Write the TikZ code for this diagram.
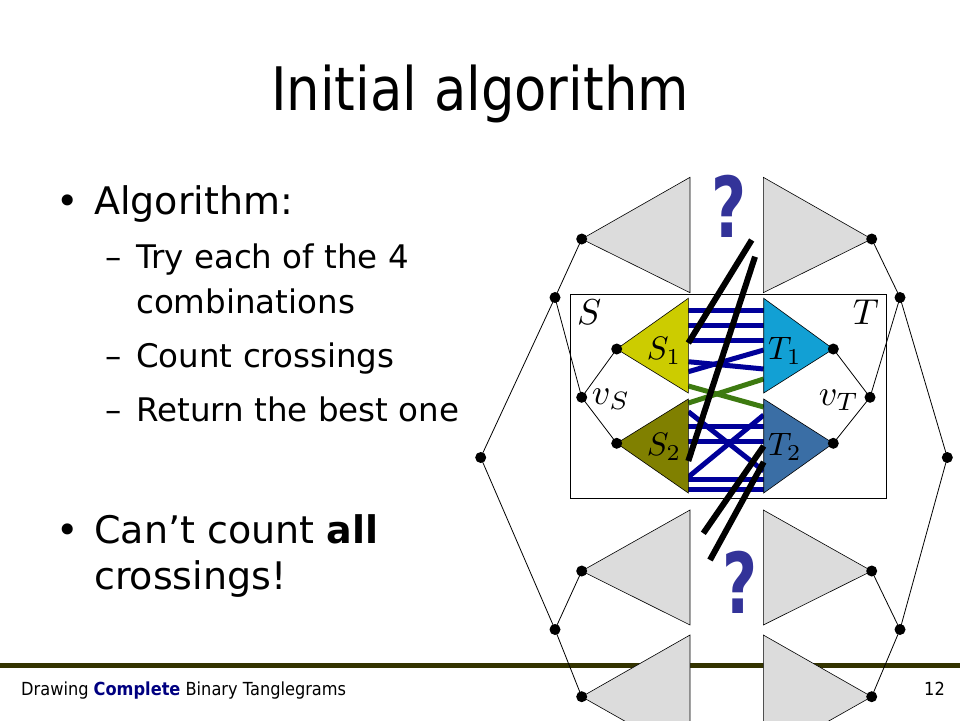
\documentclass[tikz,border=0pt]{standalone}
\usepackage{fontspec}
\setmainfont{DejaVu Sans}
\newfontfamily\titlefont[FakeStretch=0.88]{DejaVu Sans}
\newfontfamily\footfont[FakeStretch=0.9]{DejaVu Sans}
\definecolor{triGray}{HTML}{DCDCDC}
\definecolor{sOne}{HTML}{CCCC00}
\definecolor{sTwo}{HTML}{808000}
\definecolor{tOne}{HTML}{12A0D4}
\definecolor{tTwo}{HTML}{3A6EA5}
\definecolor{linkBlue}{HTML}{000099}
\definecolor{linkGreen}{HTML}{3D7A10}
\definecolor{qBlue}{HTML}{333399}
\definecolor{footLine}{HTML}{333300}
\definecolor{footBlue}{HTML}{000080}
\newcommand{\lblbig}[1]{\scalebox{3.6}{$#1$}}
\newcommand{\lblsub}[1]{\scalebox{3.25}{$#1$}}
\begin{document}
\begin{tikzpicture}[x=1pt,y=-1pt,
  dotnode/.style={circle,fill=black,inner sep=0pt,minimum size=11pt},
  treeedge/.style={draw=black,line width=0.8pt},
  graytri/.style={fill=triGray,draw=black,line width=0.6pt},
  coltri/.style={draw=black,line width=0.6pt},
  bluelink/.style={draw=linkBlue,line width=5pt},
  greenlink/.style={draw=linkGreen,line width=5pt},
  blacklink/.style={draw=black,line width=6pt},
  mathlbl/.style={inner sep=0pt,font=\normalsize},
  bodyL/.style={inner sep=0pt,anchor=base west,font=\fontsize{38}{38}\selectfont},
  bodyS/.style={inner sep=0pt,anchor=base west,font=\fontsize{32.5}{32.5}\selectfont},
  qmark/.style={inner sep=0pt,text=qBlue,font=\bfseries\fontsize{84}{84}\selectfont},
  footer/.style={inner sep=0pt,font=\footfont\fontsize{18}{18}\selectfont}
]
\path[use as bounding box] (0,0) rectangle (960,720);
\clip (0,0) rectangle (960,720);

% footer rule
\coordinate (fl) at (0,665);
\coordinate (fr) at (960,665);
\draw[line width=5pt,draw=footLine] (fl) -- (fr);

% tree points
\coordinate (rL) at (480.7,457.5);
\coordinate (uL) at (555,297.5);
\coordinate (lL) at (555,629.5);
\coordinate (tL1) at (581.7,239);
\coordinate (tL2) at (581.7,571);
\coordinate (tL3) at (581.7,696.7);
\coordinate (vS) at (581.7,397.3);
\coordinate (sa) at (616.7,349);
\coordinate (sb) at (616.7,443.3);
\coordinate (rR) at (947.3,457.5);
\coordinate (uR) at (900,297.5);
\coordinate (lR) at (900,629.5);
\coordinate (tR1) at (871.7,239);
\coordinate (tR2) at (871.7,571);
\coordinate (tR3) at (871.7,696.7);
\coordinate (vT) at (870,397.3);
\coordinate (ta) at (833.3,349);
\coordinate (tb) at (833.3,443.3);

% frame
\coordinate (bx1) at (570.7,294);
\coordinate (bx2) at (886,498);
\draw[line width=0.8pt] (bx1) rectangle (bx2);

% tree edges
\draw[treeedge] (uL) -- (rL) -- (lL);
\draw[treeedge] (tL1) -- (uL) -- (vS);
\draw[treeedge] (tL2) -- (lL) -- (tL3);
\draw[treeedge] (sa) -- (vS) -- (sb);
\draw[treeedge] (uR) -- (rR) -- (lR);
\draw[treeedge] (tR1) -- (uR) -- (vT);
\draw[treeedge] (tR2) -- (lR) -- (tR3);
\draw[treeedge] (ta) -- (vT) -- (tb);

% links between S and T
\draw[bluelink] (688.3,310.7) -- (763.7,310.7);
\draw[bluelink] (688.3,325) -- (763.7,325);
\draw[bluelink] (688.3,340.7) -- (763.7,340.7);
\draw[bluelink] (688.3,361.7) -- (763.7,369);
\draw[bluelink] (688.3,371.7) -- (763.7,350);
\draw[greenlink] (688.3,386) -- (763.7,407);
\draw[greenlink] (688.3,403) -- (763.7,379);
\draw[bluelink] (688.3,411.7) -- (763.7,471);
\draw[bluelink] (688.3,477) -- (763.7,415);
\draw[bluelink] (688.3,426.7) -- (763.7,426.7);
\draw[bluelink] (688.3,441) -- (763.7,441);
\draw[bluelink] (688.3,479.5) -- (763.7,479.5);
\draw[bluelink] (688.3,489.5) -- (763.7,489.5);

% gray subtrees
\draw[graytri] (690,177.3) -- (tL1) -- (690,292.7) -- cycle;
\draw[graytri] (690,510) -- (tL2) -- (690,625) -- cycle;
\draw[graytri] (690,635) -- (tL3) -- (690,758) -- cycle;
\draw[graytri] (763.3,177.3) -- (tR1) -- (763.3,292.7) -- cycle;
\draw[graytri] (763.3,510) -- (tR2) -- (763.3,625) -- cycle;
\draw[graytri] (763.3,635) -- (tR3) -- (763.3,758) -- cycle;

% coloured subtrees
\draw[coltri,fill=sOne] (688.3,298.3) -- (sa) -- (688.3,393) -- cycle;
\draw[coltri,fill=sTwo] (688.3,399) -- (sb) -- (688.3,493) -- cycle;
\draw[coltri,fill=tOne] (763.7,298.3) -- (ta) -- (763.7,393) -- cycle;
\draw[coltri,fill=tTwo] (763.7,399) -- (tb) -- (763.7,493) -- cycle;

% black crossing links
\coordinate (ka1) at (688.3,343);
\coordinate (ka2) at (751.7,240);
\coordinate (kb1) at (688.3,461);
\coordinate (kb2) at (755,256.7);
\coordinate (kc1) at (763.7,446);
\coordinate (kc2) at (703.3,533.3);
\coordinate (kd1) at (763.7,462);
\coordinate (kd2) at (710,560);
\draw[blacklink] (ka1) -- (ka2);
\draw[blacklink] (kb1) -- (kb2);
\draw[blacklink] (kc1) -- (kc2);
\draw[blacklink] (kd1) -- (kd2);

% dots
\foreach \p in {rL,uL,lL,tL1,tL2,tL3,vS,sa,sb,rR,uR,lR,tR1,tR2,tR3,vT,ta,tb}
  \node[dotnode] (d\p) at (\p) {};

% math labels
\node[mathlbl] (labS) at (589.3,312.3) {\lblbig{S}};
\node[mathlbl] (labT) at (866,312.3) {\lblbig{T}};
\node[mathlbl] (labS1) at (664,350.7) {\lblsub{S_1}};
\node[mathlbl] (labT1) at (785,350.7) {\lblsub{T_1}};
\node[mathlbl] (labS2) at (664,446.7) {\lblsub{S_2}};
\node[mathlbl] (labT2) at (785,446.7) {\lblsub{T_2}};
\node[mathlbl] (labvS) at (611,399) {\lblbig{v_S}};
\node[mathlbl] (labvT) at (839,400) {\lblbig{v_T}};

% question marks
\node[qmark] (q1) at (729,206) {\scalebox{0.72}[1]{?}};
\node[qmark] (q2) at (740,582) {\scalebox{0.72}[1]{?}};

% title
\node[inner sep=0pt,anchor=base,font=\titlefont\fontsize{60}{60}\selectfont] (title) at (480,110) {Initial algorithm};

% bullets
\node[bodyL,anchor=base] (m1) at (68,214) {•};
\node[bodyL] (t1) at (94,214) {Algorithm:};
\node[bodyS,anchor=base] (s1) at (114,268) {–};
\node[bodyS] (t2) at (136,268) {Try each of the 4};
\node[bodyS] (t3) at (136,313) {combinations};
\node[bodyS,anchor=base] (s2) at (114,367) {–};
\node[bodyS] (t4) at (136,367) {Count crossings};
\node[bodyS,anchor=base] (s3) at (114,421) {–};
\node[bodyS] (t5) at (136,421) {Return the best one};
\node[bodyL,anchor=base] (m2) at (68,543) {•};
\node[bodyL] (t6) at (94,543) {Can’t count \textbf{all}};
\node[bodyL] (t7) at (94,589) {crossings!};

% footer
\node[footer,anchor=base west] (ft) at (21,695) {Drawing \textcolor{footBlue}{\textbf{Complete}} Binary Tanglegrams};
\node[footer,anchor=base east] (pg) at (945,695) {12};
\end{tikzpicture}
\end{document}
